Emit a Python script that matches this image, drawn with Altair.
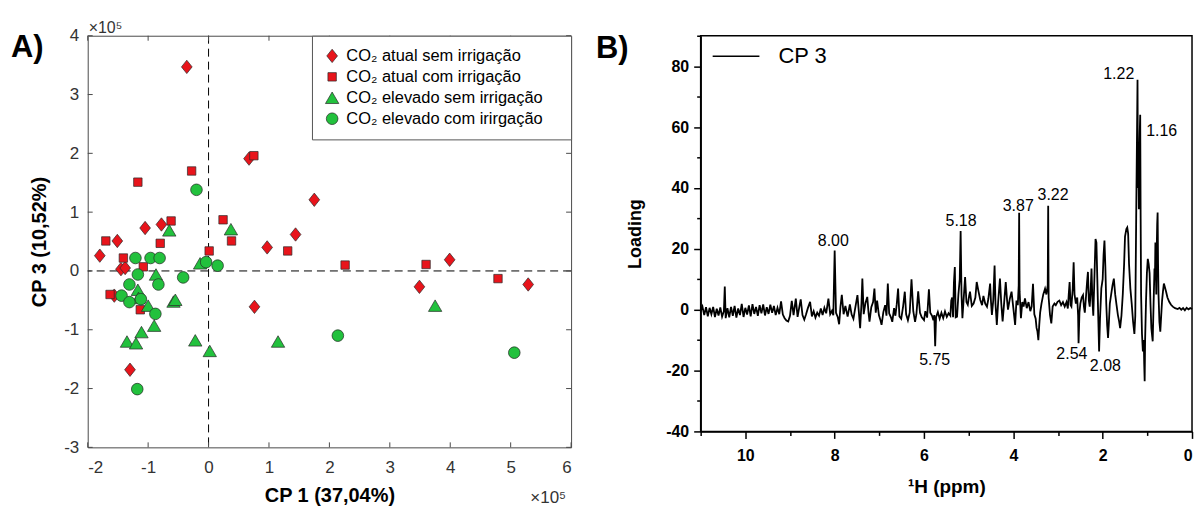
import altair as alt
import pandas as pd

FONT = "Liberation Sans"

# ---------------- Panel A: PCA scores (values in units of 10^5) ----------------
groups = ["CO₂ atual sem irrigação", "CO₂ atual com irrigação",
          "CO₂ elevado sem irrigação", "CO₂ elevado com irirgação"]
group_colors = ["#e8141b", "#e8141b", "#22c13d", "#22c13d"]
group_shapes = [
    "M0,-1L0.8,0L0,1L-0.8,0Z",                                          # diamond
    "M-0.63,-0.63L0.63,-0.63L0.63,0.63L-0.63,0.63Z",                    # square
    "M0,-0.86L1,0.86L-1,0.86Z",                                         # triangle
    "M-0.87,0A0.87,0.87,0,1,0,0.87,0A0.87,0.87,0,1,0,-0.87,0Z",         # circle
]
MARKER_SIZE = 180

cp1_atual_sem = [-0.36, 0.67, 1.75, -1.05, -0.78, -1.51, -1.80, 1.44, 0.97, -1.45, -1.38, 3.99, 3.49, 5.29, 0.76, -1.56, -1.30]
cp3_atual_sem = [3.47, 1.91, 1.21, 0.73, 0.79, 0.51, 0.26, 0.62, 0.40, 0.03, 0.05, 0.19, -0.27, -0.23, -0.61, -0.42, -1.68]
cp1_atual_com = [0.75, -0.28, -1.17, 0.24, -0.62, 0.38, -1.70, -0.80, 1.31, 0.01, -1.41, -1.08, 2.26, 3.60, 4.79, -1.63, -1.13]
cp3_atual_com = [1.96, 1.70, 1.51, 0.87, 0.85, 0.51, 0.51, 0.47, 0.34, 0.34, 0.22, 0.07, 0.10, 0.11, -0.13, -0.40, -0.66]
cp1_elev_sem = [-0.65, 0.37, -0.14, -0.87, -1.17, -1.16, -0.58, -0.55, -1.00, -0.90, -1.11, -1.35, -1.20, -0.22, 0.02, 1.15, 3.75]
cp3_elev_sem = [0.69, 0.71, 0.13, -0.06, -0.32, -0.46, -0.52, -0.49, -0.59, -0.93, -1.04, -1.20, -1.23, -1.18, -1.36, -1.20, -0.59]
cp1_elev_com = [-0.20, -1.21, -0.96, -0.81, -1.17, -1.31, -0.83, -0.42, -0.04, 0.15, -1.44, -1.31, -1.12, -0.88, -1.18, 2.14, 5.06]
cp3_elev_com = [1.38, 0.22, 0.22, 0.22, -0.06, -0.23, -0.23, -0.11, 0.15, 0.09, -0.42, -0.53, -0.48, -0.73, -2.01, -1.10, -1.39]

xticks_A = [-2, -1, 0, 1, 2, 3, 4, 5, 6]
yticks_A = [-3, -2, -1, 0, 1, 2, 3, 4]

# ---------------- Panel B: CP 3 loading spectrum ----------------
spec_aliphatic_free = [  # 11.0 -> 8.0 ppm
    (11.00, -0.5), (10.96, 1.0), (10.92, -1.8), (10.88, 0.8), (10.84, -2.2), (10.80, 0.6),
    (10.76, -1.5), (10.72, 0.9), (10.68, -2.4), (10.64, 0.3), (10.60, -1.9), (10.56, 0.7),
    (10.52, -2.3), (10.48, -0.5), (10.46, 7.6), (10.44, -2.8), (10.40, 0.5), (10.36, -2.5),
    (10.32, 0.9), (10.28, -2.0), (10.24, 1.2), (10.20, -2.6), (10.16, 0.4), (10.12, -1.8),
    (10.08, 1.9), (10.04, -2.4), (10.00, 0.6), (9.96, -1.6), (9.92, 1.4), (9.88, -2.2),
    (9.84, 1.8), (9.80, -1.4), (9.76, 0.9), (9.72, -2.0), (9.68, 1.5), (9.64, -1.2),
    (9.60, 1.7), (9.56, -1.9), (9.52, 0.8), (9.48, -1.4), (9.44, 1.6), (9.40, -1.0),
    (9.36, 1.2), (9.32, -1.8), (9.28, 0.6), (9.24, -1.5), (9.20, 2.7), (9.16, -1.6),
    (9.12, -2.8), (9.08, -3.6), (9.04, -3.9), (9.00, -2.0), (8.96, 2.9), (8.92, -1.8),
    (8.87, 3.6), (8.83, -2.4), (8.79, 1.0), (8.76, 3.4), (8.72, -1.8), (8.68, -3.3),
    (8.64, -1.5), (8.60, 0.5), (8.55, 2.6), (8.51, -2.2), (8.47, -0.5), (8.43, -2.6),
    (8.39, -1.0), (8.35, -2.0), (8.31, 0.4), (8.27, -1.8), (8.23, 0.6), (8.19, -1.2),
    (8.14, 3.6), (8.10, -1.5), (8.06, -0.4), (8.03, -1.8), (8.00, 19.4),
]
spec_aromatic = [  # 8.0 -> 5.4 ppm
    (7.97, -1.0), (7.93, -2.5), (7.90, -4.8), (7.87, 1.0), (7.84, 4.9), (7.80, -1.5),
    (7.76, 1.2), (7.71, -2.3), (7.66, 1.7), (7.62, -1.6), (7.58, -3.0), (7.54, 0.5),
    (7.49, 4.8), (7.46, -0.5), (7.43, -6.1), (7.40, 2.0), (7.38, 10.2), (7.35, -1.5),
    (7.31, 2.2), (7.27, 4.2), (7.24, -1.2), (7.22, -3.9), (7.18, 0.8), (7.14, 2.5),
    (7.11, 6.9), (7.08, -1.0), (7.05, 3.0), (7.01, -1.8), (6.98, -3.2), (6.95, -5.0),
    (6.91, -0.8), (6.87, 1.5), (6.84, -2.0), (6.81, 8.6), (6.78, -1.2), (6.74, -2.5),
    (6.71, -4.0), (6.67, 0.5), (6.64, -2.0), (6.61, 1.8), (6.58, 6.9), (6.55, -2.2),
    (6.51, -3.0), (6.47, 0.8), (6.43, 5.9), (6.40, -1.5), (6.36, -3.5), (6.32, -1.0),
    (6.28, 10.0), (6.24, -0.5), (6.20, -4.0), (6.17, -1.5), (6.13, 6.0), (6.09, -1.0),
    (6.05, -2.5), (6.00, -3.4), (5.97, -0.5), (5.93, -2.6), (5.89, 6.7), (5.86, -1.0),
    (5.82, -2.0), (5.79, -3.5), (5.77, -1.8), (5.75, -12.0), (5.73, -2.5), (5.69, -0.8),
    (5.65, -3.0), (5.61, -1.0), (5.57, -2.8), (5.53, -0.6), (5.49, -2.4), (5.45, -1.2),
    (5.41, -2.0), (5.39, 3.0),
]
spec_sugar = [  # 5.4 -> 3.0 ppm
    (5.37, 4.0), (5.35, -2.5), (5.33, 9.0), (5.31, 14.0), (5.29, -2.5), (5.26, -2.3),
    (5.23, 5.0), (5.20, 10.0), (5.18, 25.8), (5.16, 5.0), (5.14, -2.8), (5.11, 4.0),
    (5.08, 10.7), (5.05, 2.5), (5.02, 1.6), (4.99, 4.5), (4.97, 5.9), (4.93, 1.2),
    (4.89, 2.0), (4.85, 4.0), (4.82, 9.1), (4.78, 6.0), (4.74, 3.2), (4.70, 1.5),
    (4.67, 4.5), (4.63, 2.0), (4.59, 1.0), (4.56, 3.5), (4.52, 8.6), (4.50, 2.5),
    (4.48, -1.7), (4.45, 3.0), (4.42, 14.5), (4.40, 2.0), (4.37, -5.0), (4.34, 2.5),
    (4.30, 10.2), (4.27, 2.0), (4.24, -3.9), (4.21, 1.5), (4.17, 9.1), (4.14, 3.0),
    (4.12, 0.0), (4.08, 3.5), (4.04, 5.9), (4.00, 0.5), (3.96, -5.0), (3.93, 3.0),
    (3.90, 1.5), (3.88, 8.0), (3.87, 31.8), (3.86, 6.0), (3.83, -2.8), (3.80, 2.5),
    (3.77, 1.0), (3.74, 3.7), (3.70, 0.5), (3.66, 2.5), (3.62, -0.5), (3.59, 1.0),
    (3.56, 8.5), (3.53, -1.5), (3.50, -3.0), (3.48, -6.0), (3.46, -7.2), (3.44, -10.0),
    (3.42, -5.0), (3.40, -1.0), (3.37, 2.0), (3.33, 5.0), (3.29, 6.9), (3.26, 5.0),
    (3.23, 8.0), (3.22, 34.1), (3.21, 4.0), (3.18, -1.6), (3.15, -4.5), (3.12, 1.0),
    (3.08, 2.0), (3.05, 1.5), (3.01, 2.6),
]
spec_organic = [  # 3.0 -> 1.7 ppm
    (2.97, 3.0), (2.93, 1.5), (2.89, 2.5), (2.85, 1.0), (2.81, 2.5), (2.78, 0.4),
    (2.76, 5.0), (2.74, 9.1), (2.72, 1.5), (2.70, 1.0), (2.67, 7.0), (2.65, 15.6),
    (2.63, 5.0), (2.60, 2.0), (2.57, 4.0), (2.55, -2.0), (2.54, -11.0), (2.52, -1.0),
    (2.50, 2.0), (2.47, 4.0), (2.44, 4.8), (2.42, 1.0), (2.40, -1.0), (2.37, 5.0),
    (2.35, 9.0), (2.33, 12.4), (2.31, 3.0), (2.29, 1.0), (2.27, 6.0), (2.25, 13.5),
    (2.23, 3.0), (2.21, -2.0), (2.19, 8.0), (2.16, 23.2), (2.14, 22.0), (2.12, 10.0),
    (2.10, -2.0), (2.08, -13.7), (2.06, -3.0), (2.03, 7.0), (2.00, 10.0), (1.98, 18.0),
    (1.96, 22.7), (1.94, 14.0), (1.92, 2.0), (1.90, -5.0), (1.88, -9.3), (1.86, -4.0),
    (1.84, 2.0), (1.81, 5.0), (1.78, 8.0), (1.75, 10.2), (1.72, 5.0), (1.69, 1.6),
]
spec_methyl = [  # 1.7 -> 0 ppm
    (1.66, -1.7), (1.63, -4.0), (1.61, -6.1), (1.58, -2.0), (1.55, 5.0), (1.52, 15.0),
    (1.50, 24.0), (1.47, 26.5), (1.45, 27.0), (1.43, 25.0), (1.41, 15.0), (1.38, 6.9),
    (1.35, 2.0), (1.32, -3.9), (1.29, -8.0), (1.27, -2.0), (1.25, 30.0), (1.23, 60.0),
    (1.22, 75.5), (1.21, 40.0), (1.20, 55.0), (1.19, 33.0), (1.18, 50.0), (1.17, 58.0),
    (1.16, 64.0), (1.15, 30.0), (1.14, 5.0), (1.12, -8.0), (1.10, -13.7), (1.08, -10.0),
    (1.07, -18.0), (1.06, -23.5), (1.05, -10.0), (1.03, 2.6), (1.01, 12.0), (0.99, 16.7),
    (0.97, 15.0), (0.95, 12.0), (0.93, 2.0), (0.91, -6.1), (0.89, -9.0), (0.88, -10.4),
    (0.86, 2.0), (0.84, 13.5), (0.83, 10.0), (0.82, 22.1), (0.80, 5.0), (0.79, 20.0),
    (0.78, 28.0), (0.77, 31.9), (0.76, 15.0), (0.75, 5.0), (0.73, -4.0), (0.71, -7.2),
    (0.69, -2.0), (0.67, 3.0), (0.65, 6.0), (0.63, 8.6), (0.61, 7.5), (0.58, 5.9),
    (0.55, 4.0), (0.51, 2.6), (0.47, 1.6), (0.43, 1.0), (0.38, 0.5), (0.32, 0.2),
    (0.28, 0.6), (0.24, 0.0), (0.20, 0.5), (0.16, -0.2), (0.12, 0.6), (0.08, 0.1),
    (0.04, 0.5), (0.00, 0.2),
]

peak_labels = ["8.00", "5.18", "3.87", "3.22", "1.22", "1.16", "5.75", "2.54", "2.08"]
peak_label_ppm = [8.03, 5.17, 3.89, 3.11, 1.64, 0.68, 5.76, 2.69, 1.94]
peak_label_load = [22.5, 29.2, 34.1, 37.6, 77.3, 58.8, -16.4, -14.5, -18.6]

xticks_B = list(range(0, 12))
yticks_B = list(range(-40, 91, 10))

# ---------------- build tables ----------------
rows = []
for g, xs, ys in [(groups[0], cp1_atual_sem, cp3_atual_sem),
                  (groups[1], cp1_atual_com, cp3_atual_com),
                  (groups[2], cp1_elev_sem, cp3_elev_sem),
                  (groups[3], cp1_elev_com, cp3_elev_com)]:
    for a, b in zip(xs, ys):
        rows.append({"pc1": a, "pc3": b, "group": g})
df_scores = pd.DataFrame(rows)

spec_all = spec_aliphatic_free + spec_aromatic + spec_sugar + spec_organic + spec_methyl
df_spec = pd.DataFrame(spec_all, columns=["ppm", "loading"])
df_spec["series"] = "CP 3"
df_peaks = pd.DataFrame({"ppm": peak_label_ppm, "loading": peak_label_load, "label": peak_labels})

one = pd.DataFrame({"k": [0]})

# ---------------- Panel A ----------------
WA, HA = 485, 413
FRAME_A = "#4a4a4a"
scale_xA = alt.Scale(domain=[-2, 6], nice=False, zero=False)
scale_yA = alt.Scale(domain=[-3, 4], nice=False, zero=False)
axis_xA = alt.Axis(values=xticks_A, labelExpr="'' + datum.value", title="CP 1 (37,04%)",
                   grid=False, ticks=False, domain=False,
                   labelFont=FONT, labelFontSize=17, labelColor="#333333", labelPadding=12,
                   titleFont=FONT, titleFontSize=20, titleFontWeight="bold", titleColor="black",
                   titlePadding=10)
axis_yA = alt.Axis(values=yticks_A, labelExpr="'' + datum.value", title="CP 3 (10,52%)",
                   grid=False, ticks=False, domain=False,
                   labelFont=FONT, labelFontSize=17, labelColor="#333333", labelPadding=9,
                   titleFont=FONT, titleFontSize=20, titleFontWeight="bold", titleColor="black",
                   titlePadding=14)
xA = alt.X("pc1:Q", scale=scale_xA, axis=axis_xA)
yA = alt.Y("pc3:Q", scale=scale_yA, axis=axis_yA)

legendA = alt.Legend(title="W", titleOrient="right", titleOpacity=0, titlePadding=0,
                     titleFontSize=16, titleFont=FONT,
                     orient="top-right", offset=0, padding=12,
                     fillColor="white", strokeColor="#555555",
                     labelFont=FONT, labelFontSize=16.5, labelColor="black", labelLimit=400,
                     labelOffset=6, rowPadding=4, symbolSize=MARKER_SIZE,
                     symbolStrokeColor="#2a2a2a", symbolStrokeWidth=0.7)

df_xt = pd.DataFrame({"pc1": xticks_A})
df_yt = pd.DataFrame({"pc3": yticks_A})

zero_v = alt.Chart(pd.DataFrame({"pc1": [0]})).mark_rule(
    color="black", strokeDash=[8, 5], strokeWidth=1).encode(x=xA)
zero_h = alt.Chart(pd.DataFrame({"pc3": [0]})).mark_rule(
    color="black", strokeDash=[8, 5], strokeWidth=1).encode(y=yA)
tick_top = alt.Chart(df_xt).mark_rule(color=FRAME_A).encode(x=xA, y=alt.value(0), y2=alt.value(5))
tick_bot = alt.Chart(df_xt).mark_rule(color=FRAME_A).encode(x=xA, y=alt.value(HA), y2=alt.value(HA - 5))
tick_left = alt.Chart(df_yt).mark_rule(color=FRAME_A).encode(y=yA, x=alt.value(0), x2=alt.value(5))
tick_right = alt.Chart(df_yt).mark_rule(color=FRAME_A).encode(y=yA, x=alt.value(WA), x2=alt.value(WA - 5))

points = alt.Chart(df_scores).mark_point(filled=True, opacity=1, size=MARKER_SIZE,
                                         stroke="#2a2a2a", strokeWidth=0.7).encode(
    x=xA, y=yA,
    color=alt.Color("group:N", scale=alt.Scale(domain=groups, range=group_colors), legend=legendA),
    shape=alt.Shape("group:N", scale=alt.Scale(domain=groups, range=group_shapes), legend=legendA),
)

exp_top = alt.Chart(one).mark_text(text="×10⁵", font=FONT, fontSize=16, color="#333333",
                                   align="left", baseline="alphabetic").encode(
    x=alt.value(1), y=alt.value(-3))
exp_bot = alt.Chart(one).mark_text(text="×10⁵", font=FONT, fontSize=17, color="#333333",
                                   align="right", baseline="alphabetic").encode(
    x=alt.value(WA - 5), y=alt.value(HA + 56))
label_A = alt.Chart(one).mark_text(text="A)", font=FONT, fontSize=31, fontWeight="bold", color="black",
                                   align="left", baseline="alphabetic").encode(
    x=alt.value(-77), y=alt.value(21))
top_anchor_A = alt.Chart(one).mark_text(text=".", opacity=0, fontSize=4, baseline="top").encode(
    x=alt.value(0), y=alt.value(-20))

chartA = alt.layer(zero_v, zero_h, tick_top, tick_bot, tick_left, tick_right, points,
                   exp_top, exp_bot, label_A, top_anchor_A).properties(
    width=WA, height=HA, view=alt.ViewBackground(stroke=FRAME_A, strokeWidth=1))

# ---------------- Panel B ----------------
WB, HB = 493, 397
scale_xB = alt.Scale(domain=[0, 11], reverse=True, nice=False, zero=False)
scale_yB = alt.Scale(domain=[-40, 90], nice=False, zero=False)
axis_xB = alt.Axis(values=xticks_B, labelExpr="datum.value % 2 === 0 ? '' + datum.value : ''",
                   title="¹H (ppm)", grid=False,
                   domainColor="black", domainWidth=1.5, tickColor="black", tickWidth=1.5,
                   tickSize={"condition": {"test": "datum.value % 2 === 0", "value": 7}, "value": 4},
                   labelFont=FONT, labelFontSize=16, labelFontWeight="bold", labelColor="black",
                   labelPadding=9, labelFlush=True,
                   titleFont=FONT, titleFontSize=19, titleFontWeight="bold", titleColor="black",
                   titlePadding=14)
axis_yB = alt.Axis(values=yticks_B, labelExpr="datum.value % 20 === 0 ? '' + datum.value : ''",
                   title="Loading", grid=False,
                   domainColor="black", domainWidth=1.5, tickColor="black", tickWidth=1.5,
                   tickSize={"condition": {"test": "datum.value % 20 === 0", "value": 7}, "value": 4},
                   labelFont=FONT, labelFontSize=16, labelFontWeight="bold", labelColor="black",
                   labelPadding=5,
                   titleFont=FONT, titleFontSize=18, titleFontWeight="bold", titleColor="black",
                   titlePadding=21)
xB = alt.X("ppm:Q", scale=scale_xB, axis=axis_xB)
yB = alt.Y("loading:Q", scale=scale_yB, axis=axis_yB)

legendB = alt.Legend(title=None, orient="none", legendX=11, legendY=-4, padding=0,
                     symbolType="stroke", symbolSize=2200, symbolStrokeWidth=1.5,
                     symbolStrokeColor="black",
                     labelFont=FONT, labelFontSize=22, labelColor="black", labelOffset=18)

spectrum = alt.Chart(df_spec).mark_line(strokeWidth=1.8).encode(
    x=xB, y=yB,
    color=alt.Color("series:N", scale=alt.Scale(domain=["CP 3"], range=["black"]), legend=legendB),
)
peak_text = alt.Chart(df_peaks).mark_text(font=FONT, fontSize=16, color="black",
                                          align="center", baseline="middle").encode(
    x=xB, y=yB, text="label:N")
label_B = alt.Chart(one).mark_text(text="B)", font=FONT, fontSize=31, fontWeight="bold", color="black",
                                   align="left", baseline="alphabetic").encode(
    x=alt.value(-105), y=alt.value(22))

chartB = alt.layer(spectrum, peak_text, label_B).properties(
    width=WB, height=HB, view=alt.ViewBackground(stroke="black", strokeWidth=1.5))

chart = alt.hconcat(chartA, chartB, spacing=130, bounds="flush").resolve_scale(
    color="independent", shape="independent"
).properties(
    padding={"left": 10, "right": 0, "top": 14, "bottom": 2},
    background="white",
).configure_legend(strokeWidth=1)

chart.save("out.html", embed_options={"renderer": "svg", "actions": False})
